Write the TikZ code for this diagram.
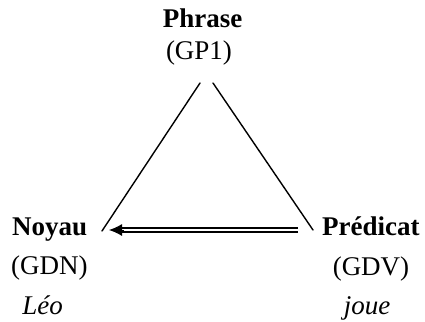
\documentclass[tikz,border=0pt]{standalone}
\usepackage{fontspec}
\setmainfont{Liberation Serif}
\usetikzlibrary{arrows.meta}
\begin{document}
\begin{tikzpicture}[x=1bp,y=-1bp,
  lbl/.style={inner sep=0pt, anchor=base, font=\fontsize{27bp}{30bp}\selectfont},
  edge/.style={line width=1.4bp, line cap=round},
  dblline/.style={double, double distance=1.5bp, line width=1.8bp, shorten >=9bp},
  headtip/.style={line width=1bp, -{Latex[length=13bp,width=12bp]}}]
\useasboundingbox (0,0) rectangle (425,322);
% labels
\node[lbl] (phrase) at (202.5,27) {\bfseries Phrase};
\node[lbl] (gp1) at (199,59) {(GP1)};
\node[lbl, anchor=base west] (noyau) at (12,235) {\bfseries Noyau};
\node[lbl, anchor=base west] (gdn) at (11,274) {(GDN)};
\node[lbl] (leo) at (42.5,314) {\itshape Léo};
\node[lbl, anchor=base west] (pred) at (322,235) {\bfseries Prédicat};
\node[lbl] (gdv) at (371,275) {(GDV)};
\node[lbl] (joue) at (367,314) {\itshape joue};
% triangle corners
\coordinate (topL) at (200,83);
\coordinate (topR) at (213,83);
\coordinate (botL) at (102,231);
\coordinate (botR) at (313,230);
\coordinate (arrS) at (298,230);
\coordinate (arrE) at (109,230);
\coordinate (arrH) at (124,230);
\draw[edge] (topL) -- (botL);
\draw[edge] (topR) -- (botR);
\draw[dblline] (arrS) -- (arrE);
\draw[headtip] (arrH) -- (arrE);
\end{tikzpicture}
\end{document}
